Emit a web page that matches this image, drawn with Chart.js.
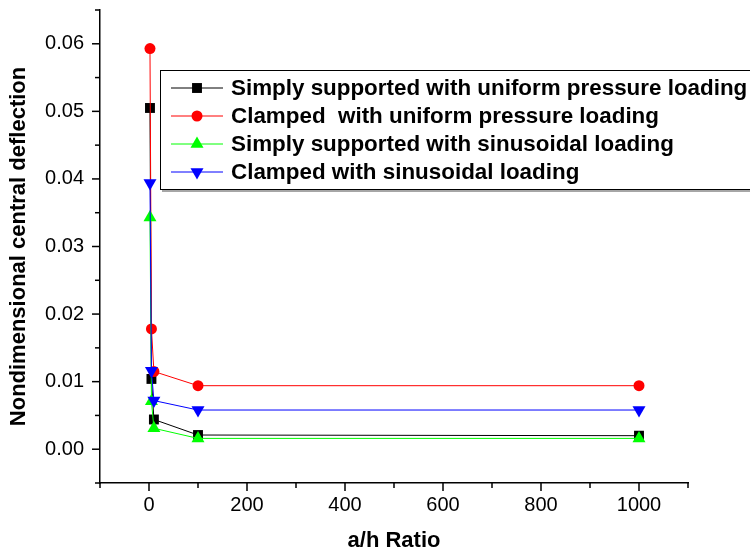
<!DOCTYPE html>
<html>
<head>
<meta charset="utf-8">
<script src="https://cdn.jsdelivr.net/npm/chart.js@4"></script>
<style>
  html, body { margin: 0; padding: 0; background: #fff; }
  #wrap { width: 750px; height: 554px; position: relative; }
</style>
</head>
<body>
<div id="wrap"><canvas id="chart"></canvas></div>
<script>
// a/h ratios and deflections
const ahRatio = [2, 5, 10, 100, 1000];
const ssUniform = [0.0505, 0.0104, 0.0044, 0.0021, 0.0020];
const clUniform = [0.0593, 0.0178, 0.0115, 0.0094, 0.0094];
const ssSinus = [0.0343, 0.0071, 0.0031, 0.0016, 0.0016];
const clSinus = [0.0394, 0.0116, 0.0072, 0.0058, 0.0058];

const seriesNames = [
  "Simply supported with uniform pressure loading",
  "Clamped  with uniform pressure loading",
  "Simply supported with sinusoidal loading",
  "Clamped with sinusoidal loading",
];

const xMin = -100, xMax = 1100, xMinor = 100, xMajor = 200;
const yMin = -0.005, yMax = 0.065, yMinor = 0.005;

function toPoints(ys) {
  return ahRatio.map((x, i) => ({ x: x, y: ys[i] }));
}

function makeSet(label, ys, color, style, radius, rot, order) {
  return {
    label: label,
    data: toPoints(ys),
    borderColor: color,
    backgroundColor: color,
    borderWidth: 1,
    pointStyle: style,
    pointRadius: radius,
    pointRotation: rot,
    pointBorderWidth: 0,
    pointBackgroundColor: color,
    tension: 0,
    order: order,
  };
}

// tick marks: majors longer than minors, placed by the scales
const tickPlugin = {
  id: "ticks",
  afterDraw(chart) {
    const ctx = chart.ctx;
    const xs = chart.scales.x, ys = chart.scales.y;
    const area = chart.chartArea;
    ctx.save();
    ctx.strokeStyle = "#000";
    ctx.lineWidth = 1.5;
    xs.ticks.forEach((t) => {
      const px = xs.getPixelForValue(t.value);
      const len = Math.round(t.value) % xMajor === 0 ? 8 : 5;
      ctx.beginPath();
      ctx.moveTo(px, area.bottom);
      ctx.lineTo(px, area.bottom + len);
      ctx.stroke();
    });
    ys.ticks.forEach((t) => {
      const py = ys.getPixelForValue(t.value);
      const len = Math.round(t.value * 1000) % 10 === 0 ? 8 : 5;
      ctx.beginPath();
      ctx.moveTo(area.left, py);
      ctx.lineTo(area.left - len, py);
      ctx.stroke();
    });
    ctx.restore();
  },
};

// boxed legend with line-marker-line samples
const legendPlugin = {
  id: "boxLegend",
  afterDraw(chart) {
    const ctx = chart.ctx;
    const left = 160, top = 70, right = 752, bottom = 189;
    ctx.save();
    ctx.fillStyle = "#fff";
    ctx.fillRect(left, top, right - left, bottom - top);
    ctx.strokeStyle = "#888";
    ctx.lineWidth = 1.5;
    ctx.beginPath();
    ctx.moveTo(left + 2, bottom + 2);
    ctx.lineTo(right, bottom + 2);
    ctx.stroke();
    ctx.strokeStyle = "#000";
    ctx.lineWidth = 1;
    ctx.strokeRect(left + 0.5, top + 0.5, right - left, bottom - top);
    const rows = [88, 116, 144, 172];
    ctx.font = "bold 22.4px 'Liberation Sans', Arial, sans-serif";
    ctx.textBaseline = "middle";
    chart.data.datasets.forEach((ds, i) => {
      const y = rows[i];
      ctx.strokeStyle = ds.borderColor;
      ctx.lineWidth = 1;
      ctx.beginPath();
      ctx.moveTo(171, y);
      ctx.lineTo(223, y);
      ctx.stroke();
      ctx.fillStyle = ds.backgroundColor;
      Chart.helpers.drawPoint(ctx, {
        pointStyle: ds.pointStyle,
        radius: ds.pointRadius,
        rotation: ds.pointRotation,
        borderWidth: 0,
      }, 197, y);
      ctx.fillStyle = "#000";
      ctx.fillText(seriesNames[i], 231, y + 1);
    });
    ctx.restore();
  },
};

const axisFont = { family: "'Liberation Sans', Arial, sans-serif", size: 20 };
const titleFont = { family: "'Liberation Sans', Arial, sans-serif", size: 22, weight: "bold" };

new Chart(document.getElementById("chart"), {
  type: "line",
  data: {
    datasets: [
      makeSet(seriesNames[0], ssUniform, "#000000", "rect", 7, 0, 3),
      makeSet(seriesNames[1], clUniform, "#ff0000", "circle", 5.5, 0, 2),
      makeSet(seriesNames[2], ssSinus, "#00ff00", "triangle", 7.5, 0, 1),
      makeSet(seriesNames[3], clSinus, "#0000ff", "triangle", 7.5, 180, 0),
    ],
  },
  options: {
    responsive: true,
    maintainAspectRatio: false,
    animation: false,
    layout: { padding: { top: 10, right: 62, left: 0, bottom: 0 } },
    plugins: {
      legend: { display: false },
      tooltip: { enabled: false },
    },
    scales: {
      x: {
        type: "linear",
        min: xMin,
        max: xMax,
        afterFit: (scale) => {
          scale.height = 71;
          scale.paddingLeft = 0;
          scale.paddingRight = 0;
        },
        ticks: {
          stepSize: xMinor,
          color: "#000",
          font: axisFont,
          padding: 2,
          maxRotation: 0,
          autoSkip: false,
          callback: (v) => (Math.round(v) % xMajor === 0 ? String(v) : ""),
        },
        grid: { drawOnChartArea: false, drawTicks: true, tickLength: 8, tickColor: "rgba(0,0,0,0)" },
        border: { display: true, color: "#000", width: 1.5 },
        title: { display: true, text: "a/h Ratio", color: "#000", font: titleFont, padding: { top: 0, bottom: 0 } },
      },
      y: {
        type: "linear",
        min: yMin,
        max: yMax,
        afterFit: (scale) => {
          scale.width = 100;
          scale.paddingTop = 0;
          scale.paddingBottom = 0;
        },
        ticks: {
          stepSize: yMinor,
          color: "#000",
          font: axisFont,
          padding: 8,
          autoSkip: false,
          callback: (v) => (Math.round(v * 1000) % 10 === 0 ? v.toFixed(2) : ""),
        },
        grid: { drawOnChartArea: false, drawTicks: true, tickLength: 8, tickColor: "rgba(0,0,0,0)" },
        border: { display: true, color: "#000", width: 1.5 },
        title: { display: true, text: "Nondimensional central deflection", color: "#000", font: titleFont, padding: { top: 6, bottom: 0 } },
      },
    },
  },
  plugins: [tickPlugin, legendPlugin],
});
</script>
</body>
</html>
